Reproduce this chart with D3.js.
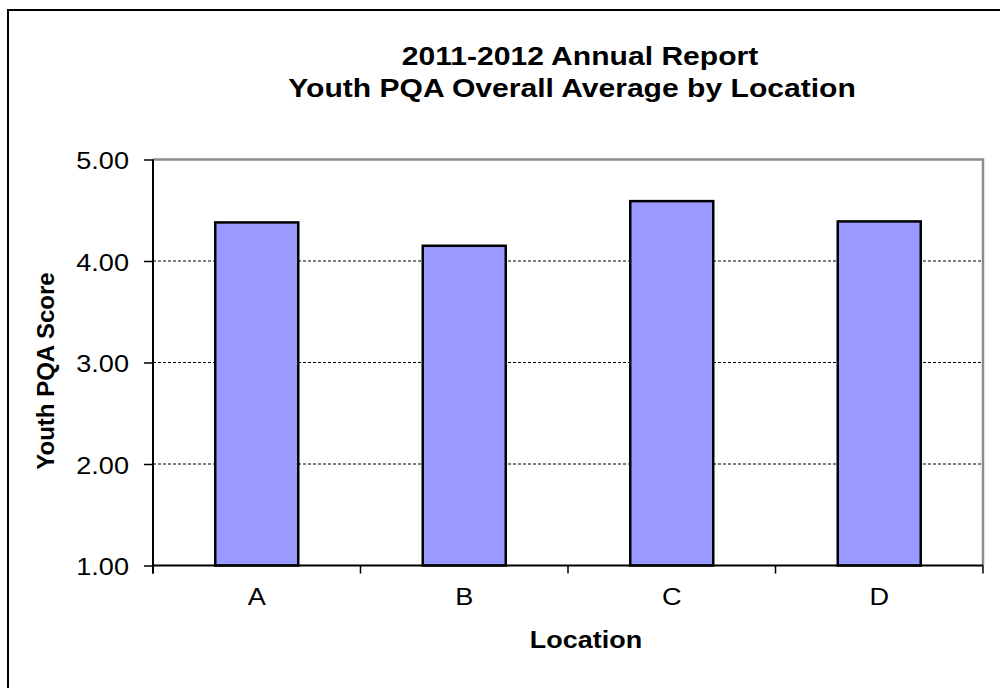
<!DOCTYPE html>
<html><head><meta charset="utf-8">
<script src="https://cdn.jsdelivr.net/npm/d3@7"></script>
<style>body{margin:0;background:#fff}svg{display:block}text{font-family:"Liberation Sans",Arial,sans-serif;fill:#000}</style>
</head><body><svg id="c" width="1000" height="688"></svg>
<script>
const categories = ["A","B","C","D"];
const values = [4.38, 4.15, 4.59, 4.39];
const yTicks = [1,2,3,4,5];
const titleLines = ["2011-2012 Annual Report","Youth PQA Overall Average by Location"];
const xTitle = "Location";
const yTitle = "Youth PQA Score";

const svg = d3.select("#c");
const m = {left:153, top:159.5, right:983, bottom:565.5};
const SX = 1.13;

svg.append("rect").attr("x",8).attr("y",10).attr("width",1100).attr("height",800)
  .attr("fill","#fff").attr("stroke","#000").attr("stroke-width",2);

const x = d3.scaleBand().domain(categories).range([m.left,m.right]).padding(0);
const y = d3.scaleLinear().domain([1,5]).range([m.bottom,m.top]);

// gridlines
svg.append("g").selectAll("line").data(yTicks.filter(d=>d>1&&d<5)).join("line")
  .attr("x1",m.left).attr("x2",m.right).attr("y1",d=>y(d)).attr("y2",d=>y(d))
  .attr("stroke","#000").attr("stroke-width",1).attr("stroke-dasharray","3,2");

// plot border (top/right gray)
svg.append("path").attr("d",`M${m.left},${m.top}H${m.right}V${m.bottom}`)
  .attr("fill","none").attr("stroke","#8c8c8c").attr("stroke-width",2.5);

// bars
const bw = x.bandwidth()*0.4;
svg.append("g").selectAll("rect").data(categories).join("rect")
  .attr("x",(d)=>x(d)+x.bandwidth()/2-bw/2).attr("width",bw)
  .attr("y",(d,i)=>y(values[i])).attr("height",(d,i)=>y(1)-y(values[i]))
  .attr("fill","#9999ff").attr("stroke","#000").attr("stroke-width",2.5);

// y axis
const ya = svg.append("g").attr("transform",`translate(${m.left},0)`)
  .call(d3.axisLeft(y).tickValues(yTicks).tickFormat(d3.format(".2f")).tickSize(9).tickPadding(0));
ya.select(".domain").attr("stroke","#000").attr("stroke-width",2).attr("d",`M0,${m.top}V${m.bottom+8}`);
ya.selectAll(".tick line").attr("stroke","#000").attr("stroke-width",1.5);
ya.selectAll(".tick text").attr("font-size",24).attr("x",0).attr("dy",null).attr("y",0)
  .attr("text-anchor","end").attr("dominant-baseline","central")
  .attr("transform",`translate(-24,1) scale(${SX},1)`);

// x axis
const xa = svg.append("g").attr("transform",`translate(0,${m.bottom})`)
  .call(d3.axisBottom(x).tickSize(0).tickPadding(0));
xa.select(".domain").attr("stroke","#000").attr("stroke-width",2).attr("d",`M${m.left},0H${m.right}`);
xa.selectAll(".tick text").attr("font-size",24).attr("dy",null).attr("y",0)
  .attr("transform",`translate(0,39.5) scale(${SX},1)`);
// boundary ticks
const bounds = categories.map(d=>x(d)).concat([m.right]);
svg.append("g").selectAll("line").data(bounds).join("line")
  .attr("x1",d=>d).attr("x2",d=>d).attr("y1",m.bottom).attr("y2",m.bottom+8)
  .attr("stroke","#000").attr("stroke-width",1.5);

// titles
const tx = [580, 572];
svg.append("g").selectAll("text").data(titleLines).join("text")
  .attr("transform",(d,i)=>`translate(${tx[i]},${65+i*32}) scale(1.18,1)`)
  .attr("text-anchor","middle")
  .attr("font-size",25.5).attr("font-weight","bold").text(d=>d);

svg.append("text").attr("transform",`translate(586,648) scale(1.1,1)`)
  .attr("text-anchor","middle").attr("font-size",24.5).attr("font-weight","bold").text(xTitle);

svg.append("text").attr("transform",`translate(54,371) rotate(-90)`)
  .attr("text-anchor","middle").attr("font-size",24).attr("font-weight","bold").text(yTitle);
</script></body></html>
